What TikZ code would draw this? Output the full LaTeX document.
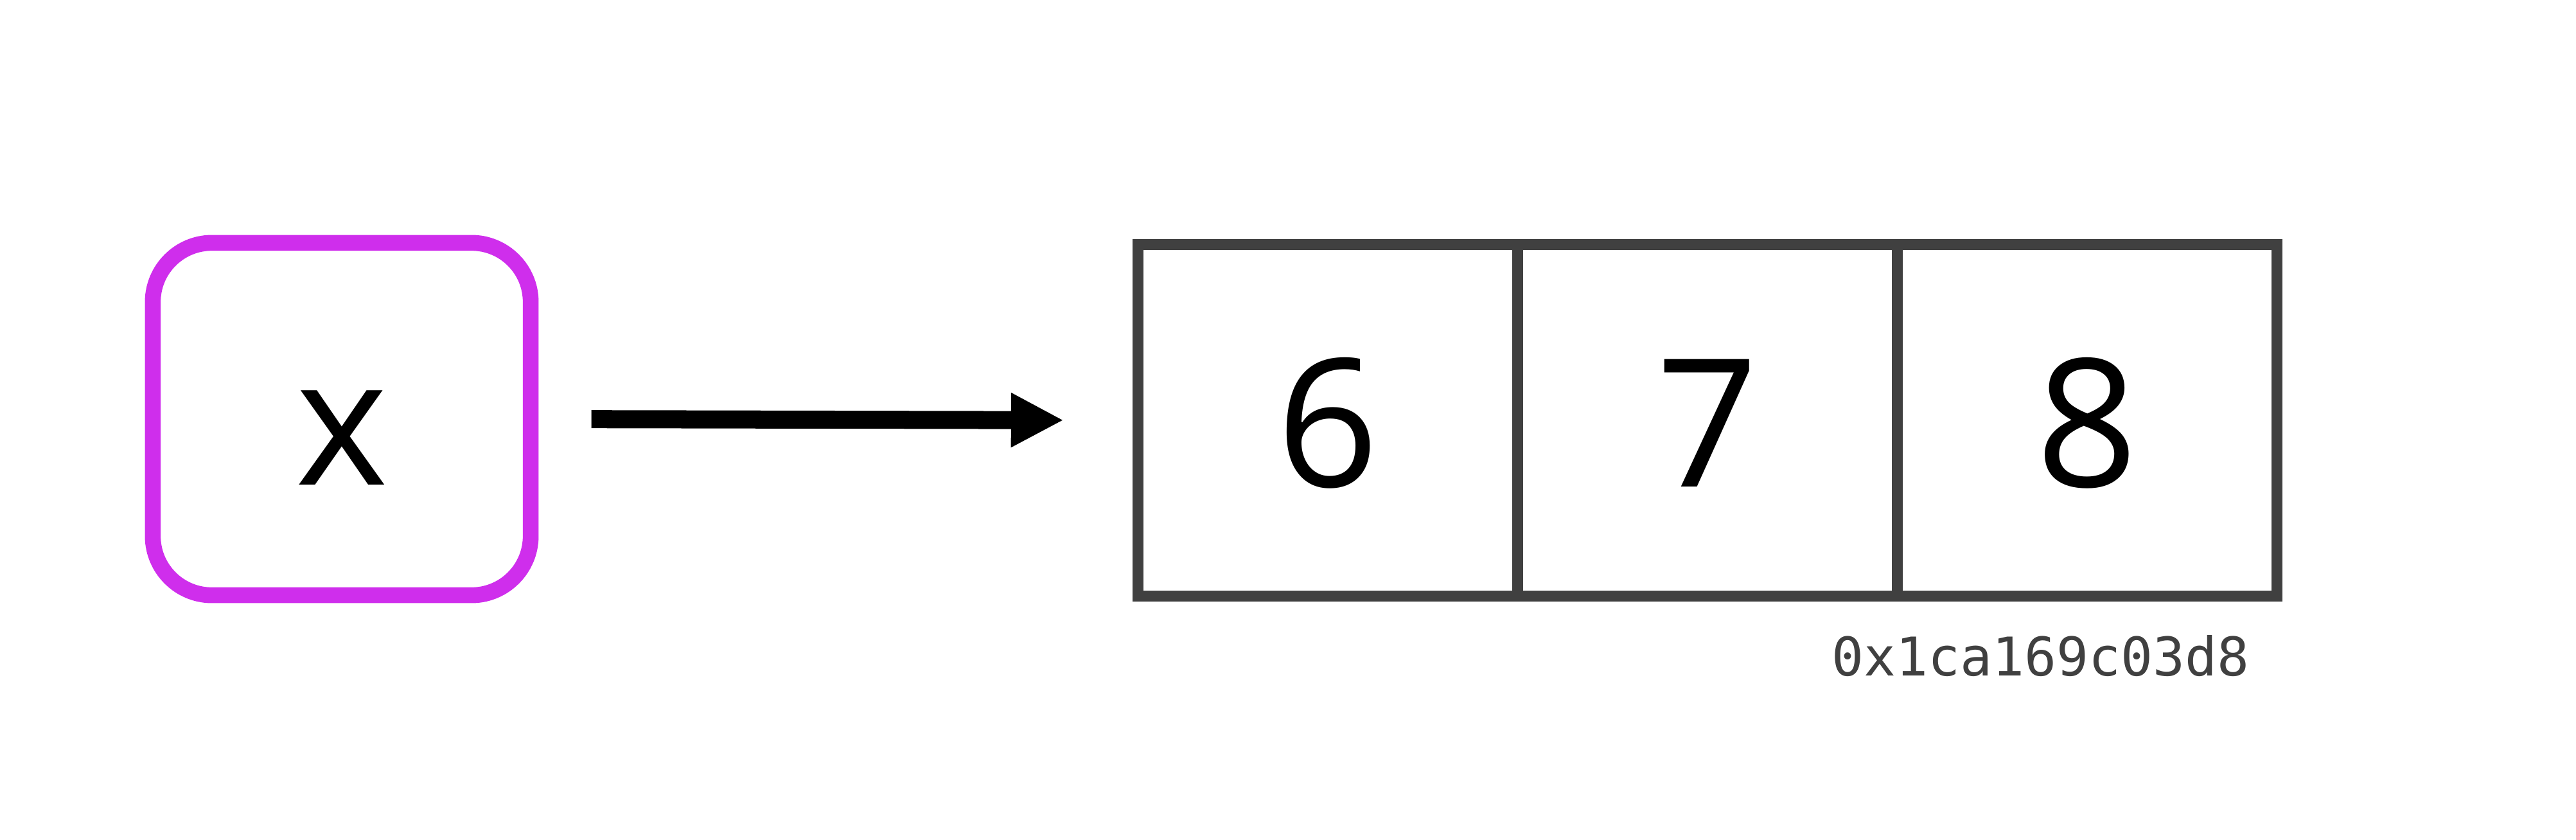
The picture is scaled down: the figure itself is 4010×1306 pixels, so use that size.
\documentclass[tikz,border=0pt]{standalone}
\usepackage{fontspec}
\setmainfont{Open Sans}
\newfontfamily\addrfont{DejaVu Sans Mono}
\usetikzlibrary{arrows.meta}
\definecolor{xmag}{RGB}{207,46,236}
\definecolor{cellgray}{RGB}{64,64,64}
\tikzset{
  varbox/.style={draw=xmag, line width=7pt, rounded corners=0.92cm,
    minimum width=5.88cm, minimum height=5.48cm, inner sep=0pt,
    text height=2.04cm, text depth=0pt,
    font=\fontsize{78}{90}\selectfont},
  cellbox/.style={draw=cellgray, line width=4.8pt,
    minimum width=5.91cm, minimum height=5.47cm, inner sep=0pt,
    text height=2.06cm, text depth=0pt,
    font=\fontsize{79}{90}\selectfont},
  ptrarrow/.style={line width=0.28cm,
    -{Triangle[length=0.82cm,width=0.79cm]},
    shorten <=0.82cm, shorten >=1.07cm},
  addrtext/.style={anchor=base west, inner sep=0pt, text=cellgray,
    font=\addrfont\fontsize{23.6}{28}\selectfont}
}
\begin{document}
\begin{tikzpicture}[x=0.01cm,y=-0.01cm]
\useasboundingbox (0,0) rectangle (4010,1306);
\fill[white] (0,0) rectangle (4010,1306);
\node[varbox] (xbox) at (532,652) {x};
\node[cellbox] (c1) at (2067,654) {6};
\node[cellbox] (c2) at (2658,654) {7};
\node[cellbox] (c3) at (3249,654) {8};
\node[addrtext] (addr) at (2851,1051) {0x1ca169c03d8};
\draw[ptrarrow] (xbox.east) -- (c1.west);
\end{tikzpicture}
\end{document}
